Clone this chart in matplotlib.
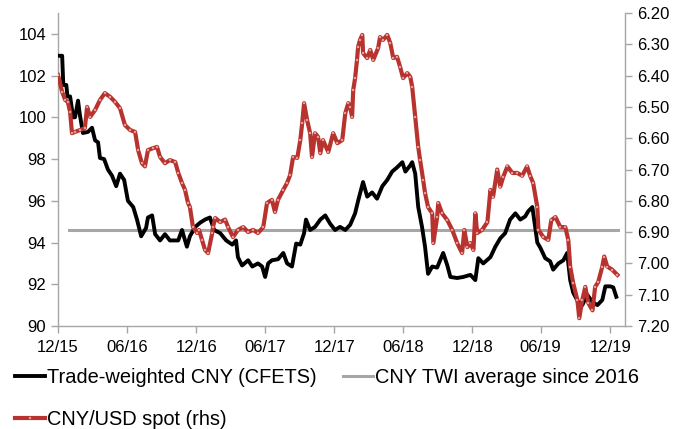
import pandas as pd
import matplotlib
matplotlib.use("Agg")
import matplotlib.pyplot as plt
import matplotlib.dates as mdates

plt.rcParams["font.family"] = ["Liberation Sans", "DejaVu Sans"]

# Trade-weighted CNY (CFETS), lhs
twi_dates = [
    "2015-12-31", "2016-01-11", "2016-01-14", "2016-01-22", "2016-01-25", "2016-02-01",
    "2016-02-09", "2016-02-14", "2016-02-22", "2016-02-27", "2016-03-06", "2016-03-19",
    "2016-03-30", "2016-04-07", "2016-04-15", "2016-04-20", "2016-05-01", "2016-05-11",
    "2016-05-22", "2016-06-02", "2016-06-12", "2016-06-23", "2016-07-03", "2016-07-17",
    "2016-07-27", "2016-08-07", "2016-08-20", "2016-08-25", "2016-09-05", "2016-09-13",
    "2016-09-26", "2016-10-09", "2016-10-22", "2016-11-13", "2016-11-23", "2016-12-06",
    "2016-12-14", "2016-12-28", "2017-01-10", "2017-01-23", "2017-02-05", "2017-02-16",
    "2017-03-04", "2017-03-20", "2017-04-05", "2017-04-15", "2017-04-20", "2017-05-01",
    "2017-05-17", "2017-05-28", "2017-06-12", "2017-06-23", "2017-07-01", "2017-07-09",
    "2017-07-19", "2017-08-04", "2017-08-18", "2017-08-28", "2017-09-10", "2017-09-21",
    "2017-10-02", "2017-10-12", "2017-10-17", "2017-10-28", "2017-11-10", "2017-11-24",
    "2017-12-07", "2017-12-20", "2018-01-02", "2018-01-15", "2018-01-29", "2018-02-11",
    "2018-02-24", "2018-03-04", "2018-03-17", "2018-03-28", "2018-04-10", "2018-04-23",
    "2018-05-07", "2018-05-20", "2018-06-02", "2018-06-15", "2018-06-29", "2018-07-07",
    "2018-07-20", "2018-07-25", "2018-08-02", "2018-08-10", "2018-08-20", "2018-08-28",
    "2018-09-05", "2018-09-16", "2018-09-29", "2018-10-15", "2018-10-26", "2018-11-03",
    "2018-11-21", "2018-12-07", "2018-12-26", "2019-01-08", "2019-01-16", "2019-01-29",
    "2019-02-17", "2019-03-02", "2019-03-15", "2019-03-28", "2019-04-10", "2019-04-24",
    "2019-05-07", "2019-05-20", "2019-05-28", "2019-06-08", "2019-06-21", "2019-06-29",
    "2019-07-12", "2019-07-25", "2019-08-02", "2019-08-16", "2019-08-29", "2019-09-08",
    "2019-09-16", "2019-09-24", "2019-10-07", "2019-10-18", "2019-10-31", "2019-11-14",
    "2019-11-27", "2019-12-10", "2019-12-18", "2019-12-31", "2020-01-08", "2020-01-16",
]
twi_values = [
    102.95, 102.95, 101.55, 101.55, 101.0, 101.0,
    100.0, 100.0, 100.8, 100.1, 99.25, 99.3,
    99.5, 98.9, 98.8, 98.05, 98.0, 97.5,
    97.2, 96.7, 97.3, 97.0, 96.0, 95.7,
    95.1, 94.3, 94.7, 95.2, 95.3, 94.4,
    94.1, 94.4, 94.1, 94.1, 94.6, 93.8,
    94.3, 94.75, 94.95, 95.1, 95.2, 94.6,
    94.45, 94.1, 93.9, 94.1, 93.3, 92.9,
    93.15, 92.85, 93.0, 92.85, 92.35, 93.0,
    93.15, 93.2, 93.5, 93.0, 92.85, 93.95,
    93.9, 94.45, 95.1, 94.6, 94.75, 95.1,
    95.3, 94.9, 94.6, 94.75, 94.6, 94.85,
    95.4, 96.0, 96.9, 96.2, 96.4, 96.1,
    96.7, 97.0, 97.4, 97.6, 97.85, 97.4,
    97.7, 97.85, 97.3, 95.7, 94.75, 93.8,
    92.5, 92.85, 92.8, 93.5, 92.9, 92.35,
    92.3, 92.35, 92.45, 92.2, 93.25, 93.0,
    93.3, 93.8, 94.2, 94.45, 95.1, 95.4,
    95.1, 95.25, 95.5, 95.7, 94.0, 93.75,
    93.25, 93.1, 92.7, 93.0, 93.15, 93.5,
    92.2, 91.6, 91.15, 91.0, 91.5, 91.15,
    91.0, 91.25, 91.9, 91.9, 91.85, 91.4,
]

# CNY TWI average since 2016, lhs
avg_dates = ["2016-01-29", "2020-01-20"]
avg_values = [94.6, 94.6]

# CNY/USD spot, rhs (inverted)
spot_dates = [
    "2015-12-31", "2016-01-11", "2016-01-19", "2016-01-26", "2016-02-01", "2016-02-06",
    "2016-02-14", "2016-02-27", "2016-03-11", "2016-03-17", "2016-03-25", "2016-04-07",
    "2016-04-20", "2016-05-03", "2016-05-17", "2016-05-30", "2016-06-12", "2016-06-25",
    "2016-07-09", "2016-07-22", "2016-07-30", "2016-08-09", "2016-08-17", "2016-08-25",
    "2016-09-07", "2016-09-18", "2016-09-26", "2016-10-09", "2016-10-22", "2016-11-05",
    "2016-11-13", "2016-11-23", "2016-12-01", "2016-12-09", "2016-12-14", "2016-12-22",
    "2017-01-02", "2017-01-07", "2017-01-15", "2017-01-23", "2017-01-31", "2017-02-11",
    "2017-02-13", "2017-02-19", "2017-03-04", "2017-03-17", "2017-03-25", "2017-04-07",
    "2017-04-20", "2017-05-04", "2017-05-17", "2017-05-30", "2017-06-12", "2017-06-26",
    "2017-07-06", "2017-07-19", "2017-07-27", "2017-08-04", "2017-08-18", "2017-08-28",
    "2017-09-05", "2017-09-13", "2017-09-24", "2017-10-02", "2017-10-07", "2017-10-12",
    "2017-10-20", "2017-10-28", "2017-11-02", "2017-11-10", "2017-11-18", "2017-11-24",
    "2017-12-01", "2017-12-15", "2017-12-28", "2018-01-08", "2018-01-21", "2018-01-29",
    "2018-02-06", "2018-02-11", "2018-02-16", "2018-02-19", "2018-02-24", "2018-03-01",
    "2018-03-04", "2018-03-09", "2018-03-15", "2018-03-17", "2018-03-28", "2018-04-05",
    "2018-04-13", "2018-04-26", "2018-05-01", "2018-05-09", "2018-05-20", "2018-05-28",
    "2018-06-05", "2018-06-15", "2018-06-23", "2018-07-01", "2018-07-12", "2018-07-20",
    "2018-07-25", "2018-08-02", "2018-08-10", "2018-08-15", "2018-08-23", "2018-08-28",
    "2018-09-05", "2018-09-16", "2018-09-19", "2018-09-29", "2018-10-02", "2018-10-12",
    "2018-10-26", "2018-11-08", "2018-11-21", "2018-12-04", "2018-12-10", "2018-12-18",
    "2018-12-26", "2019-01-03", "2019-01-08", "2019-01-13", "2019-01-26", "2019-02-09",
    "2019-02-17", "2019-02-24", "2019-03-07", "2019-03-15", "2019-03-23", "2019-04-03",
    "2019-04-16", "2019-04-29", "2019-05-12", "2019-05-25", "2019-06-02", "2019-06-10",
    "2019-06-21", "2019-06-24", "2019-07-07", "2019-07-20", "2019-07-28", "2019-08-08",
    "2019-08-21", "2019-09-03", "2019-09-11", "2019-09-16", "2019-09-24", "2019-10-05",
    "2019-10-10", "2019-10-18", "2019-10-26", "2019-11-03", "2019-11-14", "2019-11-21",
    "2019-11-29", "2019-12-10", "2019-12-15", "2019-12-23", "2020-01-05", "2020-01-19",
]
spot_values = [
    6.398, 6.452, 6.478, 6.484, 6.516, 6.584,
    6.580, 6.574, 6.568, 6.500, 6.532, 6.510,
    6.478, 6.456, 6.468, 6.484, 6.504, 6.558,
    6.574, 6.580, 6.638, 6.680, 6.690, 6.638,
    6.632, 6.628, 6.660, 6.680, 6.670, 6.676,
    6.710, 6.743, 6.765, 6.807, 6.820, 6.884,
    6.903, 6.893, 6.925, 6.957, 6.967, 6.903,
    6.884, 6.855, 6.868, 6.860, 6.884, 6.916,
    6.893, 6.884, 6.900, 6.893, 6.903, 6.884,
    6.807, 6.797, 6.836, 6.797, 6.765, 6.743,
    6.718, 6.660, 6.663, 6.606, 6.552, 6.488,
    6.542, 6.584, 6.660, 6.584, 6.596, 6.648,
    6.606, 6.644, 6.584, 6.616, 6.606, 6.520,
    6.488, 6.500, 6.532, 6.446, 6.408, 6.350,
    6.308, 6.286, 6.270, 6.328, 6.344, 6.318,
    6.350, 6.312, 6.277, 6.286, 6.270, 6.296,
    6.344, 6.340, 6.372, 6.408, 6.392, 6.404,
    6.436, 6.532, 6.628, 6.670, 6.733, 6.775,
    6.820, 6.840, 6.935, 6.852, 6.807, 6.840,
    6.862, 6.893, 6.935, 6.967, 6.893, 6.948,
    6.935, 6.957, 6.840, 6.903, 6.893, 6.868,
    6.765, 6.787, 6.700, 6.755, 6.723, 6.690,
    6.711, 6.711, 6.720, 6.690, 6.720, 6.743,
    6.820, 6.893, 6.916, 6.925, 6.862, 6.852,
    6.884, 6.884, 6.925, 7.010, 7.063, 7.117,
    7.175, 7.117, 7.075, 7.127, 7.150, 7.075,
    7.060, 7.010, 6.978, 7.010, 7.020, 7.037,
]

tick_dates = ["2015-12-31", "2016-06-30", "2016-12-31", "2017-06-30", "2017-12-31",
              "2018-06-30", "2018-12-31", "2019-06-30", "2019-12-31"]

grey = "#a6a6a6"
red = "#b8322e"

fig = plt.figure(figsize=(6.88, 4.29), dpi=100)
ax = fig.add_axes([58 / 688, 1 - 326 / 429, (625 - 58) / 688, (326 - 13) / 429])
ax2 = ax.twinx()

ax.plot(pd.to_datetime(twi_dates), twi_values, color="black", lw=2.8,
        label="Trade-weighted CNY (CFETS)", zorder=3)
ax.plot(pd.to_datetime(avg_dates), avg_values, color=grey, lw=2.2,
        label="CNY TWI average since 2016", zorder=2)
ax2.plot(pd.to_datetime(spot_dates), spot_values, color=red, lw=3.0,
         marker="s", markersize=1.8, markerfacecolor="#eab4b1",
         markeredgecolor="#d47470", markeredgewidth=0.3,
         label="CNY/USD spot (rhs)")

ax.set_ylim(90, 105)
ax.set_yticks(range(90, 105, 2))
ax2.set_ylim(7.20, 6.20)
ax2.set_yticks([6.2 + 0.1 * i for i in range(11)])
ax2.set_yticklabels([f"{6.2 + 0.1 * i:.2f}" for i in range(11)])

ax.set_xlim(pd.Timestamp("2015-12-31"), pd.Timestamp("2020-02-08"))
ax.set_xticks(pd.to_datetime(tick_dates))
ax.xaxis.set_major_formatter(mdates.DateFormatter("%m/%y"))

for a in (ax, ax2):
    a.spines["top"].set_visible(False)
    for s in ("left", "right", "bottom"):
        a.spines[s].set_color(grey)
        a.spines[s].set_linewidth(1.0)
    a.tick_params(colors=grey, labelcolor="black", labelsize=12, length=5, width=1)
ax.spines["right"].set_visible(False)
ax2.spines["left"].set_visible(False)
ax2.spines["bottom"].set_visible(False)
ax.tick_params(axis="x", pad=5)

h1, l1 = ax.get_legend_handles_labels()
h2, l2 = ax2.get_legend_handles_labels()
# column-major fill: black, red in column 1; grey in column 2
handles = [h1[0], h2[0], h1[1]]
labels = [l1[0], l2[0], l1[1]]
fig.legend(handles, labels, ncol=2, loc="upper left",
           bbox_to_anchor=(0.016, 1 - 364 / 429), frameon=False,
           fontsize=14.4, handlelength=1.5, handletextpad=0.1,
           columnspacing=1.3, labelspacing=1.15, borderaxespad=0.0,
           borderpad=0.2)

fig.savefig("out.png", dpi=100)
